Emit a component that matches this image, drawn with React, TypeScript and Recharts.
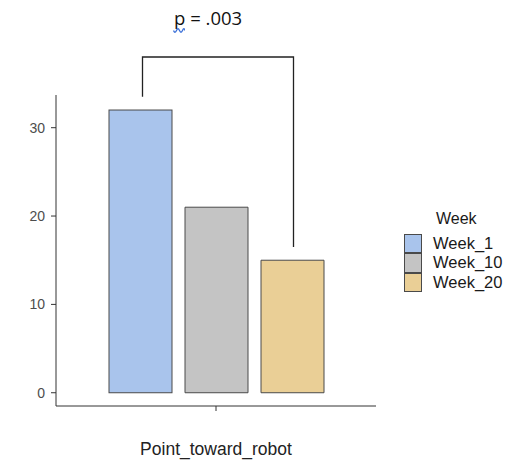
import React from "react";
import { BarChart, Bar, XAxis, YAxis, Legend } from "recharts";

/* ---------- data ---------- */
const categories = ["Point_toward_robot"];
const week1 = [32];
const week10 = [21];
const week20 = [15];
const seriesKeys = ["Week_1", "Week_10", "Week_20"];
const seriesColors = ["#A9C4EC", "#C4C4C4", "#EACF96"];
const yTicks = [0, 10, 20, 30];
const pValue = ".003";
/* bracket levels in data units */
const bracketTop = 38;
const bracketClear = 1.5;

const data = categories.map((name, i) => ({
  name,
  Week_1: week1[i],
  Week_10: week10[i],
  Week_20: week20[i],
}));

/* ---------- styles ---------- */
const FONT = '"Liberation Sans", Arial, sans-serif';
const BAR_SIZE = 63;
const BAR_GAP = 13;
const BAR_STROKE = "#4a4a4a";
const AXIS = "#333333";

/* first bar also draws the significance bracket to the last bar */
const BracketBar = (props: any) => {
  const { x, y, width, height, payload, fill } = props;
  const k = height / payload.Week_1;
  const zeroY = y + height;
  const toY = (v: number) => zeroY - v * k;
  const x1 = x + width / 2 + 2;
  const x2 = x + width / 2 + 2 * (width + BAR_GAP) + 1;
  return (
    <g>
      <rect x={x} y={y} width={width} height={height} fill={fill} stroke={BAR_STROKE} strokeWidth={1} />
      <path
        d={`M${x1},${toY(payload.Week_1 + bracketClear)} V${toY(bracketTop)} H${x2} V${toY(payload.Week_20 + bracketClear)}`}
        fill="none"
        stroke="#222"
        strokeWidth={1.3}
      />
    </g>
  );
};

const WeekLegend = () => (
  <div style={{ fontFamily: FONT, color: "#1a1a1a" }}>
    <div style={{ fontSize: 16, lineHeight: "18px", marginLeft: 32, marginBottom: 6 }}>Week</div>
    {seriesKeys.map((k, i) => (
      <div key={k} style={{ display: "flex", alignItems: "center", height: 19.3 }}>
        <span
          style={{
            width: 18,
            height: 19.3,
            boxSizing: "border-box",
            background: seriesColors[i],
            border: `1px solid ${BAR_STROKE}`,
          }}
        />
        <span style={{ marginLeft: 11, fontSize: 16.5, lineHeight: "19px" }}>{k}</span>
      </div>
    ))}
  </div>
);

export default function App() {
  return (
    <div style={{ position: "absolute", left: 0, top: 0, width: 515, height: 465, background: "#fff" }}>
      <div
        style={{
          position: "absolute",
          left: 174,
          top: 5,
          fontFamily: '"Open Sans", sans-serif',
          fontSize: 18.5,
          color: "#111",
          whiteSpace: "nowrap",
        }}
      >
        <span style={{ position: "relative" }}>
          p
          <svg
            width={12}
            height={7}
            style={{ position: "absolute", left: -1, top: 23 }}
          >
            <path d="M0.5,2.5 Q2,6 3.5,2.5 T6.5,2.5 T9.5,2.5 T12,2.5" fill="none" stroke="#3a6fd8" strokeWidth={1.3} />
          </svg>
        </span>{" "}
        = {pValue}
      </div>
      <BarChart
        width={515}
        height={465}
        data={data}
        margin={{ top: 95, right: 139, bottom: 0, left: 0 }}
        barSize={BAR_SIZE}
        barGap={BAR_GAP}
        style={{ fontFamily: FONT }}
      >
        <XAxis
          dataKey="name"
          height={59}
          tickSize={5}
          tickMargin={32}
          axisLine={{ stroke: AXIS }}
          tickLine={{ stroke: AXIS }}
          tick={{ fontSize: 17.5, fill: "#222" }}
        />
        <YAxis
          width={56}
          domain={[-1.5, 33.7]}
          ticks={yTicks}
          tickSize={5}
          tickMargin={6}
          axisLine={{ stroke: AXIS }}
          tickLine={{ stroke: AXIS }}
          tick={{ fontSize: 14, fill: "#4d4d4d" }}
        />
        <Legend
          layout="vertical"
          align="center"
          verticalAlign="middle"
          wrapperStyle={{ left: 404, top: 210, width: 111 }}
          content={WeekLegend}
        />
        {seriesKeys.map((k, i) => (
          <Bar
            key={k}
            dataKey={k}
            fill={seriesColors[i]}
            stroke={BAR_STROKE}
            strokeWidth={1}
            isAnimationActive={false}
            shape={i === 0 ? BracketBar : undefined}
          />
        ))}
      </BarChart>
    </div>
  );
}
